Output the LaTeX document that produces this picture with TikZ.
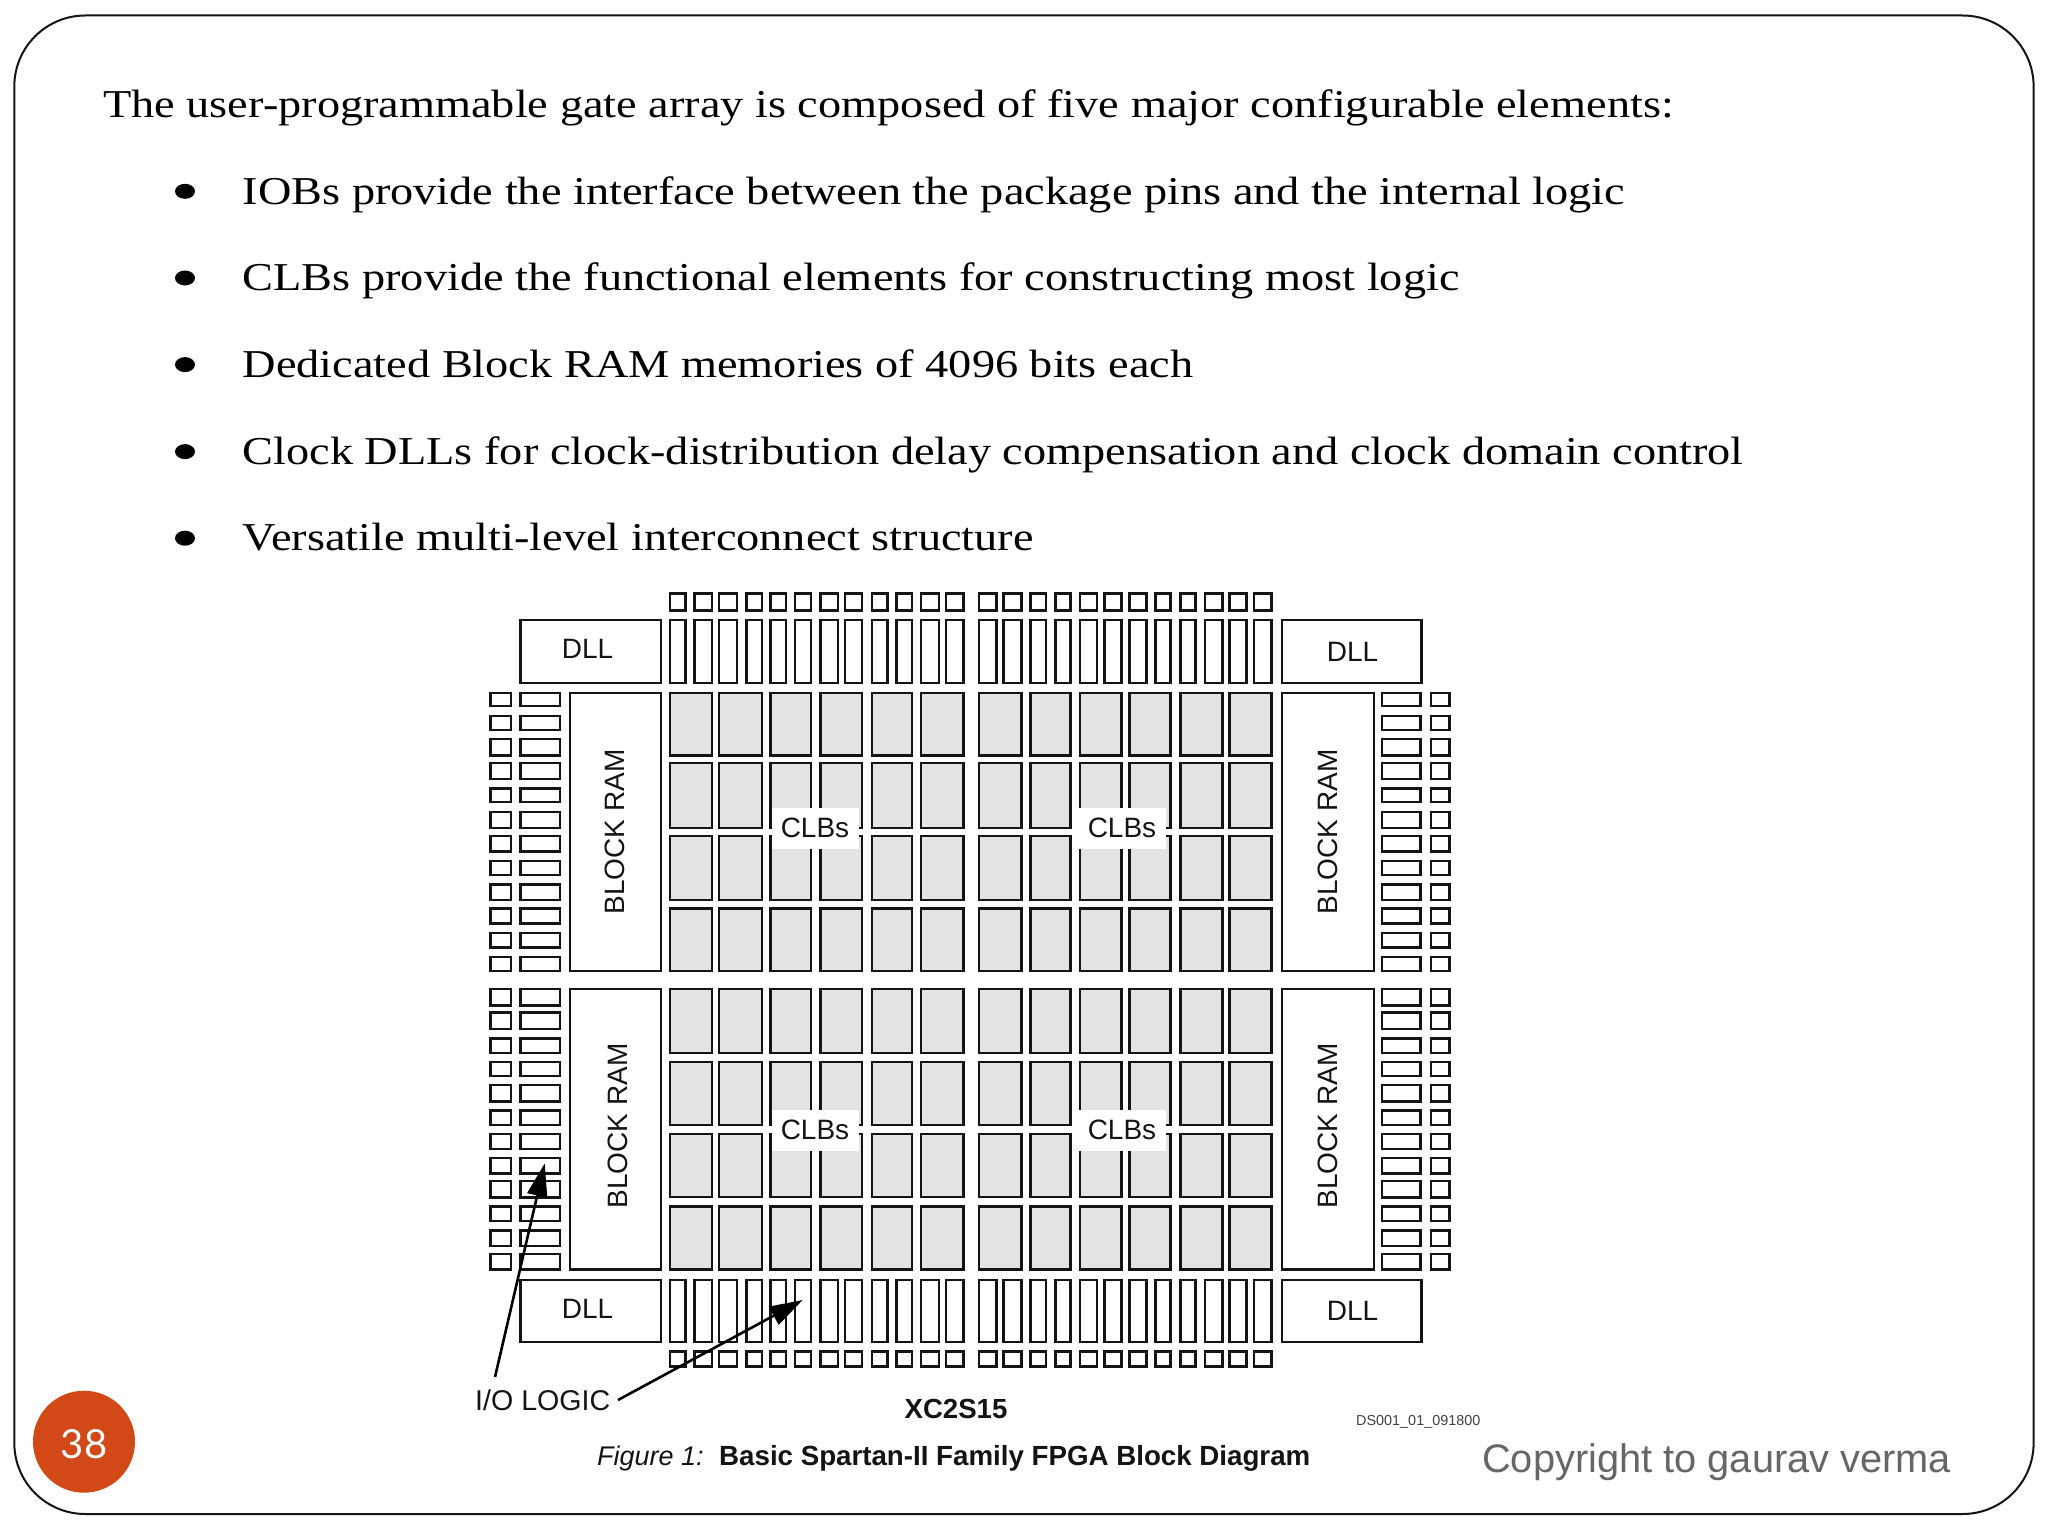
\documentclass[tikz,border=0pt]{standalone}
\usepackage{fontspec}
\usepackage{graphicx}
\usetikzlibrary{arrows.meta}
\setmainfont{Liberation Serif}
\newfontfamily\arialf{Liberation Sans}
\newfontfamily\latof{Lato}
\definecolor{clbfill}{HTML}{E3E2E4}
\definecolor{inkc}{HTML}{141414}
\definecolor{badge}{HTML}{D34817}
\definecolor{copyc}{HTML}{666666}
\newcommand\stt[1]{\scalebox{1.1725}[1]{#1}}
\newcommand\colsA{669.5/686,694/712.7,718.7/737.3,746/762.7,770/786.7,794.7/811.3,820/838.7,844.7/862.7,871.3/888,896/912.7,920.7/939.3,945.3/964,978.6/997,1003/1022,1029.8/1046.6,1055/1071,1079.4/1097.7,1103.8/1122,1129/1147,1155/1171,1180/1196,1204.6/1223,1229/1247,1253.4/1271.8}
\newcommand\colsB{669.5/712.7,718.7/762.7,770/811.3,820/862.7,871.3/912.7,920.7/964,978.6/1022,1029.8/1071,1079.4/1122,1129/1171,1180/1223,1229/1271.8}
\newcommand\rowsB{692.7/756,762.7/828.7,835.3/900.7,908/971.3,988.3/1053.3,1061.3/1125.3,1133.3/1197.7,1206/1270}
\newcommand\rowsC{692.7/706.7,715.3/730.7,738.7/756,762.7/779.3,788/802.7,811.3/828.7,835.3/852,860.7/875.3,884/900.7,908/924,932.7/948,956.7/971.3,988.3/1006,1012/1029.3,1038/1053.3,1061.3/1076.7,1084.7/1102,1110/1125.3,1133.3/1149.3,1157.3/1174,1180.7/1198,1206/1221.3,1230/1246.7,1253.3/1270}
\tikzset{
  cell/.style={draw=inkc,line width=2.4pt,fill=white},
  clbcell/.style={draw=inkc,line width=2.4pt,fill=clbfill},
  bodytext/.style={anchor=base west,inner sep=0pt,text=black,font=\fontsize{39.5}{47}\selectfont},
  sanslabel/.style={inner sep=0pt,text=inkc,font=\arialf\fontsize{28}{33}\selectfont},
  clblabel/.style={sanslabel,fill=white,minimum width=87pt,minimum height=41pt},
  bulletdot/.style={fill=black,draw=none},
  pointer/.style={draw=black,line width=2.6pt,-{Triangle[length=33pt,width=20pt]}},
}
\begin{document}
\begin{tikzpicture}[x=1pt,y=-1pt]
\useasboundingbox (0,0) rectangle (2048,1536);
\fill[white] (0,0) rectangle (2048,1536);
\draw[line width=2pt,draw=inkc,rounded corners=71pt] (14.3,15.5) rectangle (2033.6,1514);
% text
\node[bodytext] (intro) at (103,117.3) {\stt{The user-programmable gate array is composed of five major configurable elements:}};
\foreach \yy/\tt/\nm in {204/{IOBs provide the interface between the package pins and the internal logic}/a,
 290.7/{CLBs provide the functional elements for constructing most logic}/b,
 377.3/{Dedicated Block RAM memories of 4096 bits each}/c,
 464.3/{Clock DLLs for clock-distribution delay compensation and clock domain control}/d,
 550.9/{Versatile multi-level interconnect structure}/e}{
  \fill[bulletdot] (185,\yy-12.7) ellipse [x radius=10pt,y radius=7.5pt];
  \node[bodytext] (line\nm) at (242.5,\yy) {\stt{\tt}};
}
% top and bottom IO columns
\foreach \a/\b in \colsA {
  \draw[cell] (\a+0.5,593.5) rectangle (\b-0.5,610.5);
  \draw[cell] (\a+0.5,619.8) rectangle (\b-0.5,682.8);
  \draw[cell] (\a+0.5,1279.8) rectangle (\b-0.5,1342.2);
  \draw[cell] (\a+0.5,1351.5) rectangle (\b-0.5,1366.5);
}
% CLB cells
\foreach \a/\b in \colsB {
  \foreach \c/\d in \rowsB {
    \draw[clbcell] (\a+0.5,\c+0.5) rectangle (\b-0.5,\d-0.5);
  }
}
% side IO rows
\foreach \c/\d in \rowsC {
  \draw[cell] (490.5,\c+0.5) rectangle (511.2,\d-0.5);
  \draw[cell] (520.5,\c+0.5) rectangle (560.2,\d-0.5);
  \draw[cell] (1382.2,\c+0.5) rectangle (1420.5,\d-0.5);
  \draw[cell] (1431,\c+0.5) rectangle (1449.5,\d-0.5);
}
% DLLs and block RAM
\draw[cell] (520.5,619.8) rectangle (660.8,682.8);
\draw[cell] (1282.2,619.8) rectangle (1421.5,682.8);
\draw[cell] (520.5,1279.8) rectangle (660.8,1342.2);
\draw[cell] (1282.2,1279.8) rectangle (1421.5,1342.2);
\draw[cell] (569.8,693.2) rectangle (660.8,970.8);
\draw[cell] (1282.2,693.2) rectangle (1373.8,970.8);
\draw[cell] (569.8,988.8) rectangle (660.8,1269.5);
\draw[cell] (1282.2,988.8) rectangle (1373.8,1269.5);
\node[sanslabel] (dll1) at (587.5,649) {DLL};
\node[sanslabel] (dll2) at (1352.5,652) {DLL};
\node[sanslabel] (dll3) at (587.5,1309) {DLL};
\node[sanslabel] (dll4) at (1352.5,1311) {DLL};
\node[sanslabel,rotate=90] (ram1) at (615,832) {BLOCK RAM};
\node[sanslabel,rotate=90] (ram2) at (1328,832) {BLOCK RAM};
\node[sanslabel,rotate=90] (ram3) at (618,1126) {BLOCK RAM};
\node[sanslabel,rotate=90] (ram4) at (1328,1126) {BLOCK RAM};
\node[clblabel] (clb1) at (815,828) {CLBs};
\node[clblabel] (clb2) at (1122,828) {CLBs};
\node[clblabel] (clb3) at (815,1130) {CLBs};
\node[clblabel] (clb4) at (1122,1130) {CLBs};
% labels
\node[anchor=base west,inner sep=0pt,text=inkc,font=\arialf\fontsize{28.6}{33}\selectfont] (iologic) at (475,1410) {I/O LOGIC};
\coordinate (srcA) at (495,1377);
\coordinate (srcB) at (618,1400);
\coordinate (tipA) at (544.7,1163.3);
\coordinate (tipB) at (802.7,1300);
\draw[pointer] (srcA) -- (tipA);
\draw[pointer] (srcB) -- (tipB);
\node[anchor=base,inner sep=0pt,text=inkc,font=\arialf\bfseries\fontsize{27.6}{30}\selectfont] (part) at (956,1418) {XC2S15};
\node[anchor=base west,inner sep=0pt,text=inkc,font=\arialf\itshape\fontsize{27}{30}\selectfont] (figno) at (597,1465) {Figure 1:};
\node[anchor=base west,inner sep=0pt,text=inkc,font=\arialf\bfseries\fontsize{27.7}{30}\selectfont] (caption) at (719,1465) {Basic Spartan-II Family FPGA Block Diagram};
\node[anchor=base west,inner sep=0pt,text=inkc!80,font=\arialf\fontsize{14.4}{16}\selectfont] (dsid) at (1356,1425) {DS001\_01\_091800};
\node[anchor=base west,inner sep=0pt,text=copyc,font=\arialf\fontsize{39.8}{46}\selectfont] (copy) at (1482,1472) {Copyright to gaurav verma};
\fill[badge] (84,1441.7) circle [radius=51pt];
\node[inner sep=0pt,text=white,font=\latof\fontsize{40}{46}\selectfont] (pageno) at (84,1444) {38};
\end{tikzpicture}
\end{document}
